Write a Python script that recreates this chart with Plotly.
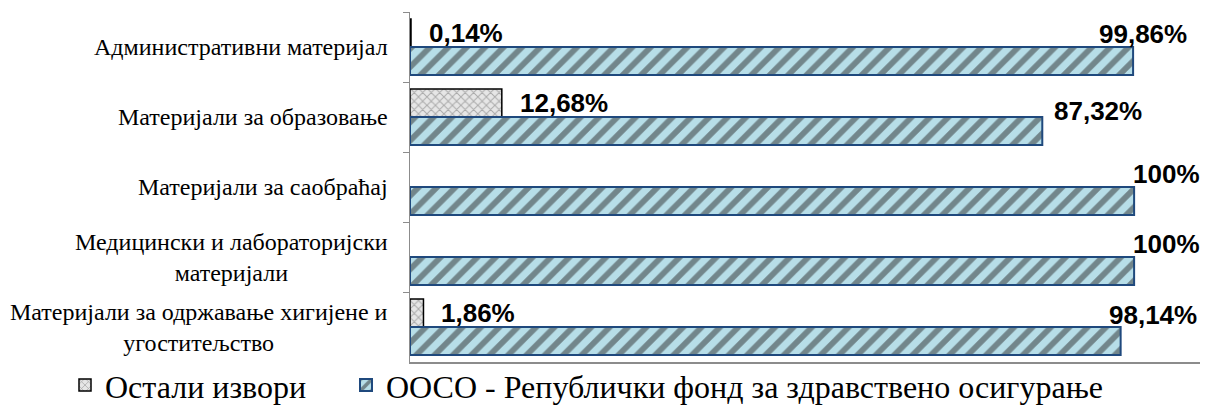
import plotly.graph_objects as go

# ---- data ----
categories = [
    "Административни материјал",
    "Материјали за образовање",
    "Материјали за саобраћај",
    "Медицински и лабораторијски материјали",
    "Материјали за одржавање хигијене и угоститељство",
]
category_labels = [
    "Административни материјал",
    "Материјали за образовање",
    "Материјали за саобраћај",
    "Медицински и лабораторијски<br>материјали",
    "Материјали за одржавање хигијене и<br>угоститељство",
]
ostali = [0.14, 12.68, None, None, 1.86]
ooso = [99.86, 87.32, 100, 100, 98.14]
ostali_text = ["0,14%", "12,68%", "", "", "1,86%"]
ooso_text = ["99,86%", "87,32%", "100%", "100%", "98,14%"]

series_names = ["Остали извори", "ООСО - Републички фонд за здравствено осигурање"]

# label nudges (pixels) – styling only
ooso_dx = [-36, 10, -3, -3, -14]
ooso_dy = [13, 6, 13, 13, 12]

SERIF = "Liberation Serif, Times New Roman, serif"
SANS = "Liberation Sans, Arial, sans-serif"

fig = go.Figure()
fig.add_trace(go.Bar(
    y=categories, x=ostali, orientation="h", name=series_names[0],
    legend="legend",
    marker=dict(color="#d9d9d9", line=dict(color="#000000", width=1.5),
                pattern=dict(shape="x", bgcolor="#e6e6e6", fgcolor="#6e6e6e",
                             size=6, solidity=0.3)),
    hoverinfo="skip",
))
fig.add_trace(go.Bar(
    y=categories, x=ooso, orientation="h", name=series_names[1],
    legend="legend2",
    marker=dict(color="#B7DEE8", line=dict(color="#1F497D", width=2),
                pattern=dict(shape="/", bgcolor="#B7DEE8", fgcolor="#2e2e2e",
                             size=13, solidity=0.45)),
    hoverinfo="skip",
))

annotations = []
lab_font = dict(family=SANS, size=26, color="#000000")
for c, v, t in zip(categories, ostali, ostali_text):
    if v is None or not t:
        continue
    annotations.append(dict(x=v, y=c, xref="x", yref="y", text="<b>%s</b>" % t,
                            showarrow=False, xanchor="left", yanchor="middle",
                            xshift=16, yshift=14, font=lab_font))
for c, v, t, dx, dy in zip(categories, ooso, ooso_text, ooso_dx, ooso_dy):
    annotations.append(dict(x=v, y=c, xref="x", yref="y", text="<b>%s</b>" % t,
                            showarrow=False, xanchor="left", yanchor="middle",
                            xshift=dx, yshift=dy, font=lab_font))
for c, lab in zip(categories, category_labels):
    annotations.append(dict(x=0, y=c, xref="paper", yref="y", text=lab,
                            showarrow=False, xanchor="right", yanchor="middle",
                            align="center", xshift=-20,
                            font=dict(family=SERIF, size=24, color="#000000")))

leg_font = dict(family=SERIF, size=32, color="#000000")
fig.update_layout(
    width=1209, height=412,
    margin=dict(l=410, r=9, t=12, b=50, autoexpand=False),
    paper_bgcolor="white", plot_bgcolor="white",
    barmode="group", bargap=0.2, bargroupgap=0,
    showlegend=True,
    legend=dict(orientation="h", x=(65 - 410) / 790, xanchor="left",
                y=0.012, yanchor="top", font=leg_font, itemwidth=30,
                bgcolor="rgba(0,0,0,0)"),
    legend2=dict(orientation="h", x=(346 - 410) / 790, xanchor="left",
                 y=0.012, yanchor="top", font=leg_font, itemwidth=30,
                 bgcolor="rgba(0,0,0,0)"),
    annotations=annotations,
)
fig.update_xaxes(range=[0, 109.1], showgrid=False, zeroline=False,
                 showticklabels=False, ticks="", showline=True,
                 linecolor="#8c8c8c", linewidth=1.5)
fig.update_yaxes(autorange="reversed", showgrid=False, zeroline=False,
                 showticklabels=False, ticks="outside", tickson="boundaries",
                 ticklen=6, tickcolor="#8c8c8c", showline=True,
                 linecolor="#8c8c8c", linewidth=1.5)

fig.write_html("out.html",
               config={"displayModeBar": False, "staticPlot": True},
               post_script="document.body.style.margin='0px';"
                           "document.body.style.overflow='hidden';")
